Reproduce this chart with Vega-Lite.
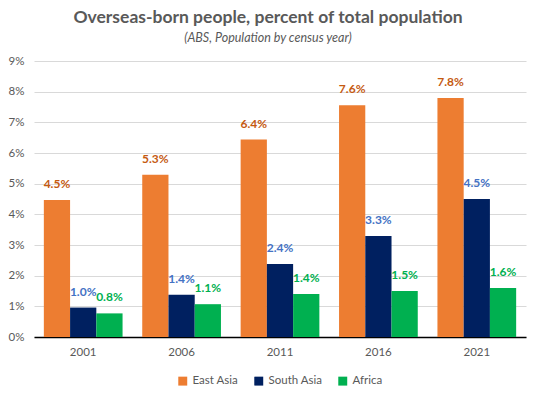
{
  "$schema": "https://vega.github.io/schema/vega-lite/v6.json",
  "width": 492,
  "height": 276,
  "autosize": {"type": "none"},
  "padding": {"left": 34, "top": 61, "right": 9, "bottom": 60},
  "background": "white",
  "title": {
    "text": "Overseas-born people, percent of total population",
    "subtitle": "(ABS, Population by census year)",
    "font": "Lato",
    "fontSize": 17.5,
    "fontWeight": "bold",
    "color": "#595959",
    "subtitleFont": "Lato",
    "subtitleFontSize": 12.5,
    "subtitleFontStyle": "italic",
    "subtitleColor": "#595959",
    "subtitlePadding": 5,
    "anchor": "middle",
    "dx": -12,
    "offset": 11
  },
  "config": {
    "view": {"stroke": null},
    "font": "Lato",
    "legend": {"layout": {"bottom": {"anchor": "middle"}}}
  },
  "data": {
    "values": [
      {"year": "2001", "region": "East Asia", "value": 0.0447},
      {"year": "2001", "region": "South Asia", "value": 0.0096},
      {"year": "2001", "region": "Africa", "value": 0.0077},
      {"year": "2006", "region": "East Asia", "value": 0.0529},
      {"year": "2006", "region": "South Asia", "value": 0.0138},
      {"year": "2006", "region": "Africa", "value": 0.0107},
      {"year": "2011", "region": "East Asia", "value": 0.0644},
      {"year": "2011", "region": "South Asia", "value": 0.0238},
      {"year": "2011", "region": "Africa", "value": 0.0140},
      {"year": "2016", "region": "East Asia", "value": 0.0756},
      {"year": "2016", "region": "South Asia", "value": 0.0329},
      {"year": "2016", "region": "Africa", "value": 0.0150},
      {"year": "2021", "region": "East Asia", "value": 0.0779},
      {"year": "2021", "region": "South Asia", "value": 0.0450},
      {"year": "2021", "region": "Africa", "value": 0.0160}
    ]
  },
  "encoding": {
    "x": {
      "field": "year",
      "type": "nominal",
      "scale": {"paddingInner": 0.2, "paddingOuter": 0.1},
      "axis": {
        "title": null,
        "labelAngle": 0,
        "ticks": false,
        "domainColor": "#000000",
        "domainWidth": 1.5,
        "labelColor": "#595959",
        "labelFontSize": 11.5,
        "labelPadding": 9
      }
    },
    "xOffset": {
      "field": "region",
      "type": "nominal",
      "scale": {"domain": ["East Asia", "South Asia", "Africa"]}
    },
    "y": {
      "field": "value",
      "type": "quantitative",
      "scale": {"domain": [0, 0.09], "nice": false},
      "axis": {
        "title": null,
        "format": ".0%",
        "values": [0, 0.01, 0.02, 0.03, 0.04, 0.05, 0.06, 0.07, 0.08, 0.09],
        "labelOverlap": false,
        "domain": false,
        "ticks": false,
        "gridColor": "#D9D9D9",
        "labelColor": "#595959",
        "labelFontSize": 11.5,
        "labelPadding": 10
      }
    }
  },
  "layer": [
    {
      "mark": {"type": "bar"},
      "encoding": {
        "color": {
          "field": "region",
          "type": "nominal",
          "scale": {
            "domain": ["East Asia", "South Asia", "Africa"],
            "range": ["#ED7D31", "#002060", "#00B050"]
          },
          "legend": {
            "title": null,
            "orient": "bottom",
            "direction": "horizontal",
            "symbolType": "square",
            "symbolSize": 80,
            "symbolStrokeWidth": 0,
            "labelFontSize": 11.5,
            "labelColor": "#595959",
            "columnPadding": 14,
            "offset": 17
          }
        }
      }
    },
    {
      "mark": {"type": "text", "dy": -9, "fontWeight": "bold", "fontSize": 12, "baseline": "bottom"},
      "encoding": {
        "text": {"field": "value", "type": "quantitative", "format": ".1%"},
        "color": {
          "field": "region",
          "type": "nominal",
          "scale": {
            "domain": ["East Asia", "South Asia", "Africa"],
            "range": ["#C55A11", "#4472C4", "#00B050"]
          },
          "legend": null
        }
      }
    }
  ],
  "resolve": {"scale": {"color": "independent"}}
}
